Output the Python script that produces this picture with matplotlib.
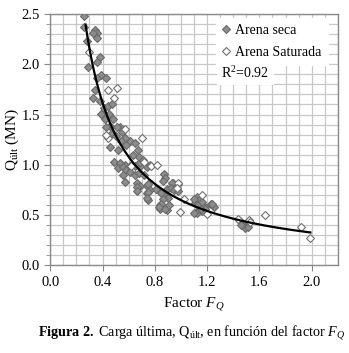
import numpy as np
import matplotlib
matplotlib.use("Agg")
import matplotlib.pyplot as plt
from matplotlib.ticker import MultipleLocator, FormatStrFormatter

# Arena seca (filled diamonds)
seca_x = [0.258, 0.258, 0.34, 0.355, 0.33, 0.36, 0.28, 0.377, 0.357, 0.29,
          0.39, 0.43, 0.36, 0.34, 0.33, 0.38, 0.41, 0.445, 0.47, 0.39,
          0.45, 0.48, 0.42, 0.46, 0.43, 0.53, 0.51, 0.55, 0.47, 0.50,
          0.61, 0.65, 0.57, 0.54, 0.46, 0.58, 0.52, 0.67, 0.63, 0.68,
          0.49, 0.53, 0.57, 0.69, 0.74, 0.52, 0.56, 0.58, 0.62, 0.67,
          0.71, 0.76, 0.65, 0.61, 0.65, 0.56, 0.57, 0.68, 0.72, 0.66,
          0.69, 0.74, 0.66, 0.75, 0.76, 0.81, 0.74, 0.75, 0.75, 0.74,
          0.66, 0.84, 0.84, 0.89, 0.86, 0.90, 0.89, 0.94, 0.87, 0.88,
          0.86, 0.93, 0.92, 0.95, 0.85, 0.86, 0.85, 0.83, 0.88, 0.91,
          0.98, 0.98, 1.12, 1.14, 1.11, 1.10, 1.13, 1.16, 1.23, 1.25,
          1.24, 1.18, 1.18, 1.13, 1.12, 1.10, 1.16, 1.15, 1.45, 1.47,
          1.48, 1.49, 1.51, 1.46]
seca_y = [2.48, 2.37, 2.34, 2.31, 2.31, 2.26, 2.23, 2.07, 2.02, 1.97,
          1.89, 1.86, 1.86, 1.74, 1.66, 1.63, 1.56, 1.58, 1.60, 1.51,
          1.51, 1.46, 1.46, 1.39, 1.38, 1.38, 1.38, 1.33, 1.32, 1.29,
          1.24, 1.22, 1.27, 1.24, 1.18, 1.20, 1.15, 1.15, 1.10, 1.08,
          1.03, 1.02, 1.00, 0.99, 0.98, 0.97, 0.98, 0.95, 1.00, 1.01,
          1.05, 1.00, 0.99, 0.93, 0.90, 0.90, 0.83, 0.92, 0.90, 0.82,
          0.79, 0.79, 0.78, 0.81, 0.75, 0.76, 0.72, 0.73, 0.65, 0.67,
          0.74, 0.60, 0.56, 0.55, 0.71, 0.67, 0.76, 0.82, 0.91, 0.87,
          0.84, 0.82, 0.77, 0.75, 0.72, 0.66, 0.61, 0.58, 0.56, 0.60,
          0.81, 0.74, 0.68, 0.65, 0.62, 0.66, 0.60, 0.63, 0.61, 0.58,
          0.61, 0.58, 0.56, 0.55, 0.52, 0.52, 0.54, 0.56, 0.44, 0.42,
          0.39, 0.37, 0.38, 0.40]

# Arena Saturada (open diamonds)
sat_x = [0.30, 0.51, 0.44, 0.49, 0.57, 0.44, 0.43, 0.70, 0.62, 0.77,
         0.72, 0.82, 0.98, 0.97, 1.02, 0.99, 1.16, 1.20, 1.44, 1.52,
         1.53, 1.64, 1.92, 1.99]
sat_y = [2.12, 1.76, 1.74, 1.66, 1.36, 1.27, 1.30, 1.27, 0.99, 0.99,
         1.03, 1.00, 0.82, 0.77, 0.66, 0.53, 0.70, 0.51, 0.46, 0.45,
         0.43, 0.50, 0.375, 0.27]

r2_label = "R$^2$=0.92"

plt.rcParams["font.family"] = "Liberation Serif"
plt.rcParams["mathtext.fontset"] = "custom"
plt.rcParams["mathtext.rm"] = "Liberation Serif"
plt.rcParams["mathtext.it"] = "Liberation Serif:italic"
plt.rcParams["mathtext.bf"] = "Liberation Serif:bold"

grey = "#8a8a8a"

fig = plt.figure(figsize=(3.49, 3.53), dpi=100)
ax = fig.add_axes([0.144, 0.249, 0.824, 0.711])

ax.plot(seca_x, seca_y, linestyle="none", marker="D", markersize=4.3,
        markerfacecolor="#8c8c8c", markeredgecolor="#6a6a6a",
        markeredgewidth=0.8, label="Arena seca", zorder=3)
ax.plot(sat_x, sat_y, linestyle="none", marker="D", markersize=4.3,
        markerfacecolor="white", markeredgecolor="#707070",
        markeredgewidth=0.8, label="Arena Saturada", zorder=3)

# power trend line fitted to all points
all_x = np.array(seca_x + sat_x)
all_y = np.array(seca_y + sat_y)
b, ln_a = np.polyfit(np.log(all_x), np.log(all_y), 1)
fx = np.linspace(0.27, all_x.max(), 200)
ax.plot(fx, np.exp(ln_a) * fx ** b, color="black", linewidth=1.6, zorder=4)

ax.set_xlim(0, 2.2)
ax.set_ylim(0, 2.5)
ax.xaxis.set_major_locator(MultipleLocator(0.4))
ax.xaxis.set_minor_locator(MultipleLocator(0.1))
ax.yaxis.set_major_locator(MultipleLocator(0.5))
ax.yaxis.set_minor_locator(MultipleLocator(0.1))
ax.xaxis.set_major_formatter(FormatStrFormatter("%.1f"))
ax.yaxis.set_major_formatter(FormatStrFormatter("%.1f"))
ax.grid(which="both", color="#c8c8c8", linewidth=0.9, zorder=0)
ax.set_axisbelow(True)
ax.tick_params(axis="both", which="major", direction="out", length=4,
               color=grey, labelsize=10.5)
ax.tick_params(axis="y", which="minor", direction="out", length=3, color=grey)
ax.tick_params(axis="x", which="minor", length=0)
for sp in ax.spines.values():
    sp.set_color(grey)
    sp.set_linewidth(1.0)

ax.set_xlabel("Factor $F_Q$", fontsize=11)
ax.xaxis.set_label_coords(0.5, -0.12)
ax.set_ylabel("Q$_{\\mathrm{últ}}$ (MN)", fontsize=11)
ax.yaxis.set_label_coords(-0.10, 0.5)

leg = ax.legend(loc="upper right", bbox_to_anchor=(0.965, 0.985),
                frameon=True, fancybox=False, edgecolor="white",
                framealpha=1, fontsize=10, handlelength=0.6,
                handletextpad=0.35, borderaxespad=0, borderpad=0.45,
                labelspacing=0.65)
leg.set_zorder(5)
ax.text(0.595, 0.765, r2_label, transform=ax.transAxes, fontsize=10,
        ha="left", va="center", zorder=6,
        bbox=dict(facecolor="white", edgecolor="none", pad=3))

fig.text(0.548, 1 - 333 / 353,
         r"$\mathbf{Figura\ 2.}$ Carga última, Q$_{\mathrm{últ}}$, en función del factor $F_Q$",
         ha="center", va="center", fontsize=10.2)

fig.savefig("out.png", dpi=100)
